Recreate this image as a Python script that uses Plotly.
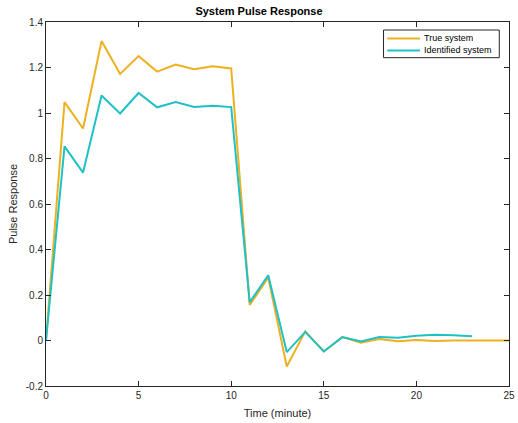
import plotly.graph_objects as go

# Pulse response samples (one per minute)
t_true = list(range(0, 26))
true_resp = [0.0, 1.048, 0.932, 1.316, 1.172, 1.25, 1.182, 1.213, 1.192, 1.205, 1.196,
             0.156, 0.277, -0.114, 0.04, -0.048, 0.015, -0.01, 0.007, -0.003, 0.002,
             -0.002, 0.0, -0.001, 0.0, 0.0]

t_ident = list(range(0, 24))
ident_resp = [0.0, 0.853, 0.738, 1.077, 0.998, 1.088, 1.025, 1.048, 1.026, 1.032, 1.026,
              0.168, 0.287, -0.051, 0.038, -0.048, 0.015, -0.004, 0.015, 0.012, 0.021,
              0.025, 0.023, 0.019]

series_names = ["True system", "Identified system"]
series_colors = ["#EDB120", "#1FC1C6"]

x_ticks = [0, 5, 10, 15, 20, 25]
y_ticks = [-0.2, 0, 0.2, 0.4, 0.6, 0.8, 1.0, 1.2, 1.4]
y_tick_text = ["-0.2", "0", "0.2", "0.4", "0.6", "0.8", "1", "1.2", "1.4"]

font_family = "Liberation Sans, Arial, sans-serif"
axis_color = "#262626"

fig = go.Figure()
for name, xs, ys, color in zip(series_names, [t_true, t_ident], [true_resp, ident_resp],
                               series_colors):
    fig.add_trace(go.Scatter(x=xs, y=ys, mode="lines", name=name,
                             line=dict(color=color, width=2), showlegend=False))

axis_common = dict(showgrid=False, zeroline=False, showline=True, linecolor=axis_color,
                   linewidth=1, mirror="ticks", ticks="inside", ticklen=5,
                   tickcolor=axis_color, tickwidth=1, automargin=False,
                   tickfont=dict(family=font_family, size=10, color=axis_color))

# Compact boxed legend in the upper-right corner of the axes
box = dict(x0=0.729, x1=0.979, y0=0.902, y1=0.978)
row_y = [0.955, 0.922]
shapes = [dict(type="rect", xref="paper", yref="paper", line=dict(color=axis_color, width=1),
               fillcolor="white", layer="above", **box)]
annotations = []
for name, color, ry in zip(series_names, series_colors, row_y):
    shapes.append(dict(type="line", xref="paper", yref="paper", x0=0.737, x1=0.808,
                       y0=ry, y1=ry, line=dict(color=color, width=2), layer="above"))
    annotations.append(dict(text=name, xref="paper", yref="paper", x=0.813, y=ry,
                            xanchor="left", yanchor="middle", showarrow=False,
                            font=dict(family=font_family, size=9, color="black")))

fig.update_layout(
    width=518, height=423,
    margin=dict(l=46, r=9, t=22, b=37),
    paper_bgcolor="white", plot_bgcolor="white",
    title=dict(text="<b>System Pulse Response</b>", x=0.5, xanchor="center",
               y=1 - 11 / 423, yanchor="middle",
               font=dict(family=font_family, size=11, color="black")),
    xaxis=dict(range=[0, 25], tickvals=x_ticks,
               title=dict(text="Time (minute)", standoff=9,
                          font=dict(family=font_family, size=11, color=axis_color)),
               **axis_common),
    yaxis=dict(range=[-0.2, 1.4], tickvals=y_ticks, ticktext=y_tick_text,
               title=dict(text="Pulse Response", standoff=5,
                          font=dict(family=font_family, size=11, color=axis_color)),
               **axis_common),
    shapes=shapes,
    annotations=annotations,
)

fig.write_html("out.html")
